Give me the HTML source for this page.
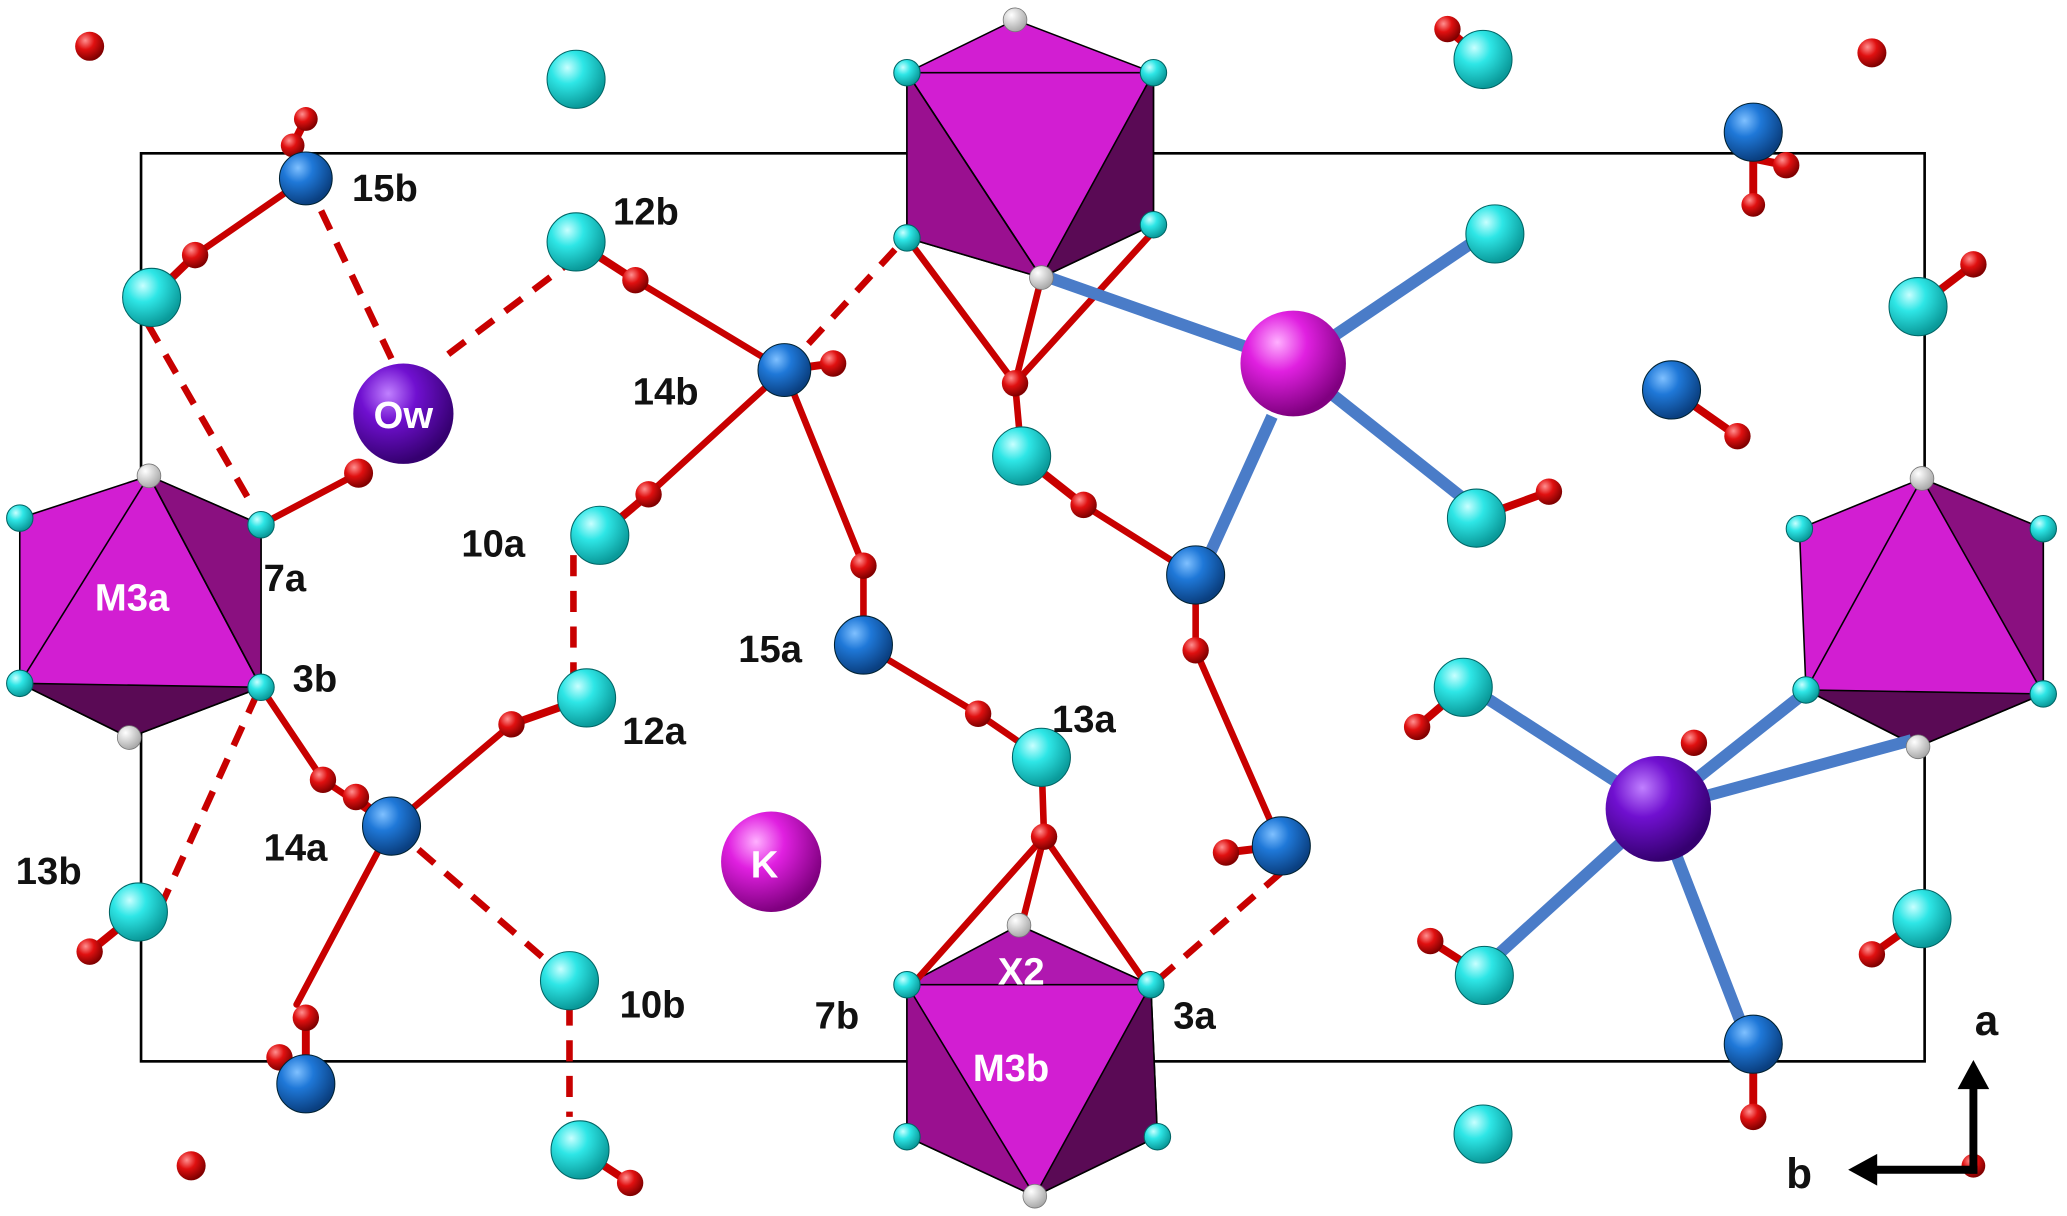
<!DOCTYPE html>
<html><head><meta charset="utf-8"><style>
html,body{margin:0;padding:0;background:#fff}
svg{display:block}
text{font-family:"Liberation Sans",Arial,sans-serif;font-weight:bold}
</style></head><body>
<svg width="2067" height="1216" viewBox="0 0 1568 920" preserveAspectRatio="none" xmlns="http://www.w3.org/2000/svg">
<defs>
<radialGradient id="gc" cx="35%" cy="30%" r="70%"><stop offset="0" stop-color="#c8ffff"/><stop offset="0.4" stop-color="#2ee6e6"/><stop offset="1" stop-color="#0a9a9a"/></radialGradient>
<radialGradient id="gb" cx="35%" cy="30%" r="70%"><stop offset="0" stop-color="#7fc0ff"/><stop offset="0.4" stop-color="#1f78d8"/><stop offset="1" stop-color="#0a3f80"/></radialGradient>
<radialGradient id="gr" cx="35%" cy="30%" r="70%"><stop offset="0" stop-color="#ff9090"/><stop offset="0.45" stop-color="#e01010"/><stop offset="1" stop-color="#800000"/></radialGradient>
<radialGradient id="gw" cx="35%" cy="30%" r="70%"><stop offset="0" stop-color="#fff"/><stop offset="1" stop-color="#aaa"/></radialGradient>
<radialGradient id="gm" cx="35%" cy="30%" r="70%"><stop offset="0" stop-color="#ffb0ff"/><stop offset="0.4" stop-color="#e020e0"/><stop offset="1" stop-color="#800080"/></radialGradient>
<radialGradient id="gp" cx="35%" cy="30%" r="70%"><stop offset="0" stop-color="#c080ff"/><stop offset="0.4" stop-color="#7010d0"/><stop offset="1" stop-color="#350070"/></radialGradient>
</defs>
<rect x="107" y="116" width="1353" height="687" fill="none" stroke="#000" stroke-width="2"/>

<!-- octahedra -->
<g stroke="#000" stroke-width="1.2">
<polygon points="113,360 198,397 198,520 98,558 15,517 15,392" fill="#d21ed2"/>
<polygon points="113,360 198,397 198,520" fill="#8a1080"/>
<polygon points="15,517 98,558 198,520" fill="#5a0a55"/>
<line x1="113" y1="360" x2="15" y2="517"/><line x1="113" y1="360" x2="198" y2="520"/>
<polygon points="770,15 875,55 875,170 790,210 688,180 688,55" fill="#d21ed2"/>
<polygon points="688,55 688,180 790,210" fill="#9a1090"/>
<polygon points="875,55 875,170 790,210" fill="#5a0a55"/>
<line x1="688" y1="55" x2="875" y2="55"/><line x1="688" y1="55" x2="790" y2="210"/>
<polygon points="773,700 873,745 878,860 785,905 688,860 688,745" fill="#d21ed2"/>
<polygon points="773,700 873,745 688,745" fill="#b018b0"/>
<polygon points="688,745 688,860 785,905" fill="#9a1090"/>
<polygon points="873,745 878,860 785,905" fill="#5a0a55"/>
<polygon points="1458,362 1550,400 1550,525 1455,565 1370,522 1365,400" fill="#d21ed2"/>
<polygon points="1458,362 1550,400 1550,525" fill="#8a1080"/>
<polygon points="1370,522 1455,565 1550,525" fill="#5a0a55"/>
<line x1="1458" y1="362" x2="1370" y2="522"/>
</g>

<!-- bonds -->
<g stroke="#c80000" stroke-width="5" stroke-linecap="round">
<line x1="232" y1="135" x2="148" y2="193"/>
<line x1="482" y1="212" x2="595" y2="280"/>
<line x1="595" y1="280" x2="492" y2="374"/>
<line x1="595" y1="280" x2="655" y2="428"/>
<line x1="655" y1="488" x2="742" y2="540"/>
<line x1="742" y1="540" x2="790" y2="573"/>
<line x1="790" y1="573" x2="792" y2="633"/>
<line x1="792" y1="633" x2="692" y2="745"/>
<line x1="792" y1="633" x2="775" y2="700"/>
<line x1="792" y1="633" x2="870" y2="745"/>
<line x1="198" y1="520" x2="245" y2="590"/>
<line x1="245" y1="590" x2="297" y2="625"/>
<line x1="297" y1="625" x2="388" y2="548"/>
<line x1="297" y1="625" x2="225" y2="760"/>
<line x1="688" y1="180" x2="770" y2="290"/>
<line x1="770" y1="290" x2="790" y2="210"/>
<line x1="770" y1="290" x2="875" y2="175"/>
<line x1="770" y1="290" x2="775" y2="345"/>
<line x1="822" y1="382" x2="895" y2="428"/>
<line x1="907" y1="492" x2="972" y2="640"/>
<line x1="198" y1="397" x2="272" y2="358"/>
<line x1="907" y1="435" x2="907" y2="492"/>
<line x1="655" y1="428" x2="655" y2="488"/>
</g>
<g stroke="#c80000" stroke-width="5" stroke-dasharray="16,11">
<line x1="232" y1="135" x2="302" y2="282"/>
<line x1="340" y1="268" x2="437" y2="195"/>
<line x1="595" y1="280" x2="687" y2="180"/>
<line x1="112" y1="245" x2="190" y2="380"/>
<line x1="435" y1="420" x2="435" y2="510"/>
<line x1="195" y1="525" x2="120" y2="690"/>
<line x1="297" y1="625" x2="432" y2="742"/>
<line x1="432" y1="760" x2="432" y2="845"/>
<line x1="972" y1="660" x2="880" y2="740"/>
</g>
<g stroke="#4a7cc8" stroke-width="9">
<line x1="981" y1="275" x2="790" y2="208"/>
<line x1="981" y1="275" x2="1125" y2="178"/>
<line x1="981" y1="275" x2="1120" y2="385"/>
<line x1="965" y1="315" x2="915" y2="425"/>
<line x1="1258" y1="612" x2="1115" y2="520"/>
<line x1="1258" y1="612" x2="1368" y2="525"/>
<line x1="1258" y1="612" x2="1450" y2="560"/>
<line x1="1258" y1="612" x2="1130" y2="728"/>
<line x1="1258" y1="612" x2="1325" y2="785"/>
</g>
<!-- small OH bonds -->
<g stroke="#c80000" stroke-width="6">
<line x1="1098" y1="22" x2="1125" y2="45"/><line x1="1455" y1="232" x2="1497" y2="200"/>
<line x1="115" y1="225" x2="148" y2="193"/><line x1="455" y1="405" x2="492" y2="374"/>
<line x1="1120" y1="392" x2="1175" y2="372"/><line x1="445" y1="528" x2="388" y2="548"/>
<line x1="1110" y1="520" x2="1075" y2="550"/><line x1="105" y1="690" x2="68" y2="720"/>
<line x1="1126" y1="738" x2="1085" y2="712"/><line x1="1458" y1="695" x2="1420" y2="722"/>
<line x1="440" y1="870" x2="478" y2="895"/><line x1="437" y1="183" x2="482" y2="212"/>
<line x1="232" y1="135" x2="222" y2="110"/><line x1="222" y1="110" x2="232" y2="90"/>
<line x1="1330" y1="100" x2="1330" y2="155"/><line x1="1330" y1="120" x2="1355" y2="125"/>
<line x1="595" y1="280" x2="632" y2="275"/><line x1="1268" y1="295" x2="1318" y2="330"/>
<line x1="972" y1="640" x2="930" y2="645"/><line x1="297" y1="625" x2="270" y2="603"/>
<line x1="232" y1="820" x2="232" y2="770"/><line x1="1330" y1="790" x2="1330" y2="845"/>
<line x1="775" y1="345" x2="822" y2="382"/>
</g>

<!-- red atoms -->
<g fill="url(#gr)">
<circle cx="68" cy="35" r="11"/><circle cx="1420" cy="40" r="11"/><circle cx="145" cy="882" r="11"/>
<circle cx="1098" cy="22" r="10"/><circle cx="1497" cy="200" r="10"/><circle cx="148" cy="193" r="10"/>
<circle cx="482" cy="212" r="10"/><circle cx="822" cy="382" r="10"/><circle cx="492" cy="374" r="10"/>
<circle cx="1175" cy="372" r="10"/><circle cx="388" cy="548" r="10"/><circle cx="742" cy="540" r="10"/>
<circle cx="1075" cy="550" r="10"/><circle cx="68" cy="720" r="10"/><circle cx="1085" cy="712" r="10"/>
<circle cx="1420" cy="722" r="10"/><circle cx="478" cy="895" r="10"/><circle cx="272" cy="358" r="11"/>
<circle cx="222" cy="110" r="9"/><circle cx="232" cy="90" r="9"/><circle cx="1355" cy="125" r="10"/><circle cx="1330" cy="155" r="9"/>
<circle cx="632" cy="275" r="10"/><circle cx="1318" cy="330" r="10"/><circle cx="907" cy="492" r="10"/>
<circle cx="655" cy="428" r="10"/><circle cx="930" cy="645" r="10"/><circle cx="270" cy="603" r="10"/>
<circle cx="232" cy="770" r="10"/><circle cx="212" cy="800" r="10"/><circle cx="1330" cy="845" r="10"/>
<circle cx="245" cy="590" r="10"/><circle cx="770" cy="290" r="10"/><circle cx="792" cy="633" r="10"/>
<circle cx="1285" cy="562" r="10"/><circle cx="1497" cy="882" r="9"/>
</g>
<!-- cyan atoms -->
<g fill="url(#gc)" stroke="#066" stroke-width="0.8">
<circle cx="437" cy="60" r="22"/><circle cx="1125" cy="45" r="22"/><circle cx="1134" cy="177" r="22"/>
<circle cx="1455" cy="232" r="22"/><circle cx="115" cy="225" r="22"/><circle cx="437" cy="183" r="22"/>
<circle cx="775" cy="345" r="22"/><circle cx="455" cy="405" r="22"/><circle cx="1120" cy="392" r="22"/>
<circle cx="445" cy="528" r="22"/><circle cx="790" cy="573" r="22"/><circle cx="1110" cy="520" r="22"/>
<circle cx="105" cy="690" r="22"/><circle cx="432" cy="742" r="22"/><circle cx="1126" cy="738" r="22"/>
<circle cx="1458" cy="695" r="22"/><circle cx="440" cy="870" r="22"/><circle cx="1125" cy="858" r="22"/>
<circle cx="15" cy="392" r="10"/><circle cx="15" cy="517" r="10"/><circle cx="198" cy="397" r="10"/><circle cx="198" cy="520" r="10"/>
<circle cx="688" cy="55" r="10"/><circle cx="875" cy="55" r="10"/><circle cx="688" cy="180" r="10"/><circle cx="875" cy="170" r="10"/>
<circle cx="688" cy="745" r="10"/><circle cx="873" cy="745" r="10"/><circle cx="688" cy="860" r="10"/><circle cx="878" cy="860" r="10"/>
<circle cx="1365" cy="400" r="10"/><circle cx="1550" cy="400" r="10"/><circle cx="1370" cy="522" r="10"/><circle cx="1550" cy="525" r="10"/>
</g>
<!-- white -->
<g fill="url(#gw)" stroke="#777" stroke-width="0.6">
<circle cx="113" cy="360" r="9"/><circle cx="98" cy="558" r="9"/><circle cx="770" cy="15" r="9"/><circle cx="790" cy="210" r="9"/>
<circle cx="773" cy="700" r="9"/><circle cx="785" cy="905" r="9"/><circle cx="1458" cy="362" r="9"/><circle cx="1455" cy="565" r="9"/>
</g>
<!-- blue -->
<g fill="url(#gb)" stroke="#023" stroke-width="0.8">
<circle cx="232" cy="135" r="20"/><circle cx="1330" cy="100" r="22"/><circle cx="595" cy="280" r="20"/>
<circle cx="1268" cy="295" r="22"/><circle cx="907" cy="435" r="22"/><circle cx="655" cy="488" r="22"/>
<circle cx="972" cy="640" r="22"/><circle cx="297" cy="625" r="22"/><circle cx="232" cy="820" r="22"/><circle cx="1330" cy="790" r="22"/>
</g>
<circle cx="306" cy="313" r="38" fill="url(#gp)"/>
<circle cx="585" cy="652" r="38" fill="url(#gm)"/>
<circle cx="981" cy="275" r="40" fill="url(#gm)"/>
<circle cx="1258" cy="612" r="40" fill="url(#gp)"/>

<!-- labels -->
<g font-size="29" fill="#111">
<text x="267" y="152">15b</text><text x="465" y="170">12b</text><text x="480" y="306">14b</text>
<text x="350" y="421">10a</text><text x="200" y="447">7a</text><text x="222" y="523">3b</text>
<text x="472" y="563">12a</text><text x="560" y="501">15a</text><text x="798" y="554">13a</text>
<text x="12" y="669">13b</text><text x="200" y="651">14a</text><text x="470" y="770">10b</text>
<text x="618" y="778">7b</text><text x="890" y="778">3a</text>
<text x="1498" y="783" font-size="32">a</text><text x="1355" y="899" font-size="32">b</text>
</g>
<g font-size="29" fill="#fff">
<text x="72" y="462">M3a</text><text x="757" y="745">X2</text><text x="738" y="818">M3b</text>
<text x="306" y="324" text-anchor="middle">Ow</text><text x="580" y="664" text-anchor="middle">K</text>
</g>
<!-- axes -->
<g stroke="#000" stroke-width="6" fill="none"><line x1="1497" y1="888" x2="1497" y2="820"/><line x1="1500" y1="885" x2="1420" y2="885"/></g>
<polygon points="1497,802 1485,824 1509,824" fill="#000"/>
<polygon points="1402,885 1424,873 1424,897" fill="#000"/>
</svg>
</body></html>
